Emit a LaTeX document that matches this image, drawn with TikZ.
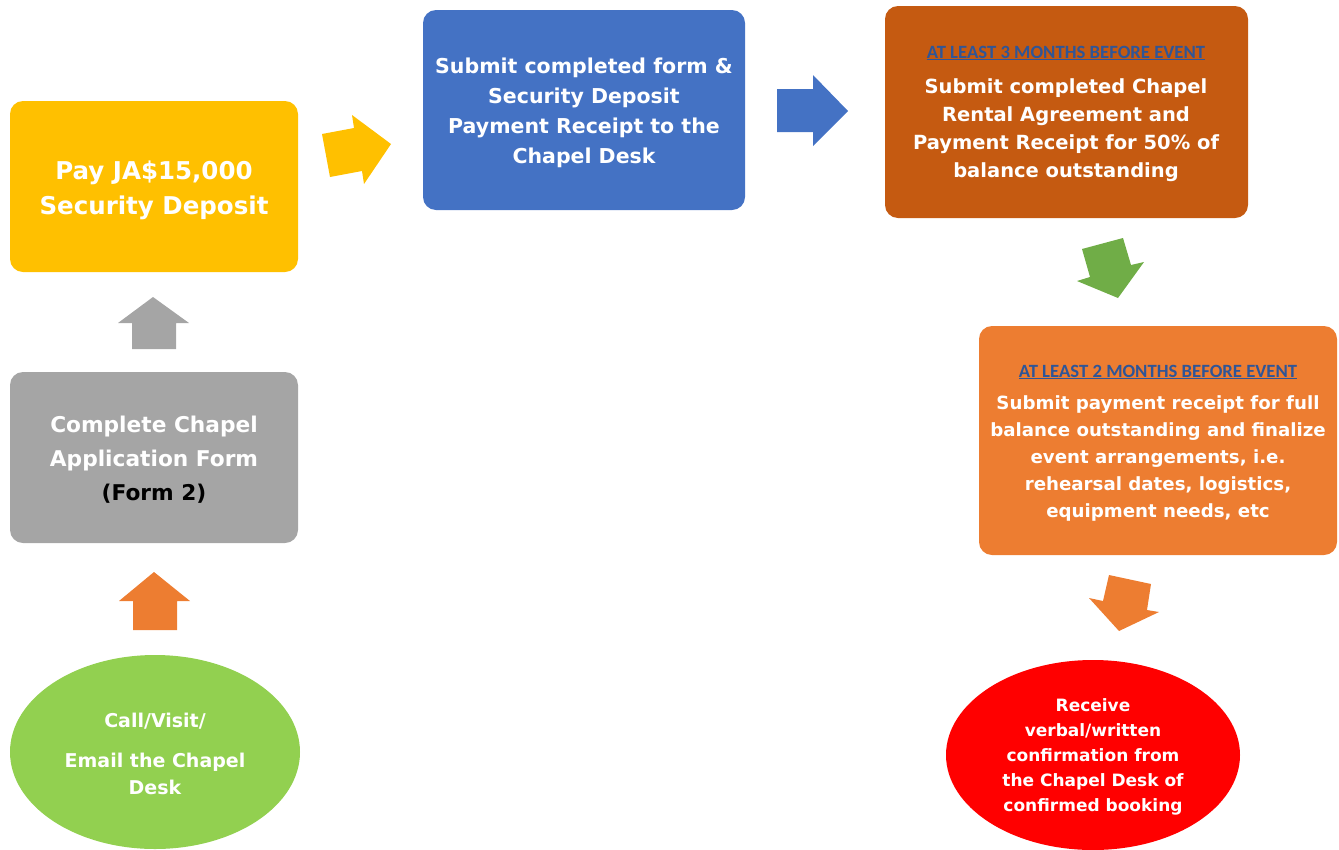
\documentclass[tikz,border=0pt]{standalone}
\usepackage{fontspec}
\setmainfont{DejaVu Sans}
\newfontfamily\hdrfont{Carlito}
\usetikzlibrary{shapes.geometric}
\definecolor{cyellow}{HTML}{FFC000}
\definecolor{cblue}{HTML}{4472C4}
\definecolor{cdorange}{HTML}{C55A11}
\definecolor{corange}{HTML}{ED7D31}
\definecolor{cgray}{HTML}{A5A5A5}
\definecolor{cgreen}{HTML}{92D050}
\definecolor{cdgreen}{HTML}{70AD47}
\definecolor{cred}{HTML}{FF0000}
\definecolor{hdrblue}{HTML}{2F5597}
\begin{document}
\begin{tikzpicture}[x=1pt,y=-1pt,
  box/.style={rounded corners=13pt, align=center, text=white, inner sep=0pt},
  oval/.style={ellipse, align=center, text=white, inner sep=0pt},
  txt/.style={align=center, text=white, inner sep=0pt},
  hdr/.style={font=\hdrfont\bfseries\fontsize{18.7}{22}\selectfont, text=hdrblue, inner sep=0pt}]
\useasboundingbox (0,0) rectangle (1339,849);

% boxes
\node[box, fill=cyellow, minimum width=288pt, minimum height=171pt] (deposit) at (154,186.5) {};
\node[txt, font=\bfseries\fontsize{24.5}{35}\selectfont] (tdep) at (154,190)
  {Pay JA\$15,000\\Security Deposit};
\node[box, fill=cblue, minimum width=322pt, minimum height=200pt] (submit) at (584,110) {};
\node[txt, font=\bfseries\fontsize{20.5}{30}\selectfont] (tsub) at (584,113)
  {Submit completed form \&\\Security Deposit\\Payment Receipt to the\\Chapel Desk};
\node[box, fill=cdorange, minimum width=363pt, minimum height=212pt] (three) at (1066.5,112) {};
\node[hdr] (h3) at (1066,53) {\underline{AT LEAST 3 MONTHS BEFORE EVENT}};
\node[txt, font=\bfseries\fontsize{19.5}{28}\selectfont] (t3) at (1066,130)
  {Submit completed Chapel\\Rental Agreement and\\Payment Receipt for 50\% of\\balance outstanding};
\node[box, fill=corange, minimum width=358pt, minimum height=229pt] (two) at (1158,440.5) {};
\node[hdr] (h2) at (1158,372) {\underline{AT LEAST 2 MONTHS BEFORE EVENT}};
\node[txt, font=\bfseries\fontsize{18.2}{27}\selectfont] (t2) at (1158,458)
  {Submit payment receipt for full\\balance outstanding and finalize\\event arrangements, i.e.\\rehearsal dates, logistics,\\equipment needs, etc};
\node[box, fill=cgray, minimum width=288pt, minimum height=171pt] (form) at (154,457.5) {};
\node[txt, font=\bfseries\fontsize{21.7}{34}\selectfont] (tform) at (154,459.5)
  {Complete Chapel\\Application Form\\\textcolor{black}{(Form 2)}};

% ellipses
\node[oval, fill=cgreen, minimum width=290pt, minimum height=194pt] (call) at (155,752) {};
\node[txt, font=\bfseries\fontsize{19}{27}\selectfont] (tcall) at (155,754)
  {Call/Visit/\\[13pt]Email the Chapel\\Desk};
\node[oval, fill=cred, minimum width=294pt, minimum height=190pt] (confirm) at (1093,755) {};
\node[txt, font=\bfseries\fontsize{17}{25}\selectfont] (tconf) at (1093,756.5)
  {Receive\\verbal/written\\confirmation from\\the Chapel Desk of\\confirmed booking};

% block arrows
\fill[corange] (133,630) -- (133,601) -- (119,601) -- (154,572) -- (190,601) -- (177,601) -- (177,630) -- cycle;
\fill[cgray] (132,349) -- (132,323) -- (118,323) -- (153,297) -- (189,323) -- (176,323) -- (176,349) -- cycle;
\fill[cyellow] (322,134) -- (354,128) -- (352,115) -- (391,144) -- (364,184) -- (362,171) -- (330,177) -- cycle;
\fill[cblue] (777,89) -- (813,89) -- (813,75) -- (848,111) -- (813,146) -- (813,132) -- (777,132) -- cycle;
\fill[cdgreen] (1082,249) -- (1123,238) -- (1131,265) -- (1144,262) -- (1118,298) -- (1077,281) -- (1090,277) -- cycle;
\fill[corange] (1109,575) -- (1151,584) -- (1147,610) -- (1159,612) -- (1119,631) -- (1089,598) -- (1103,601) -- cycle;
\end{tikzpicture}
\end{document}
